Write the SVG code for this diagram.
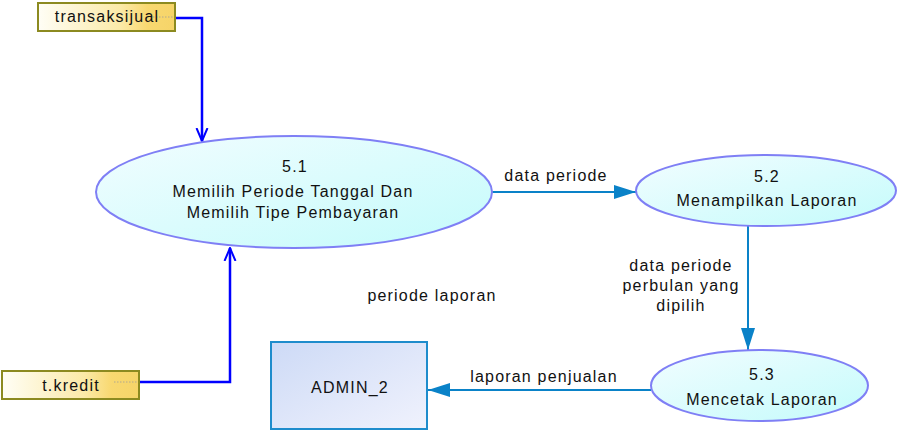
<svg xmlns="http://www.w3.org/2000/svg" width="899" height="431" viewBox="0 0 899 431">
<style>
text{font-family:"Liberation Sans",Arial,sans-serif;font-size:16px;letter-spacing:1.2px;fill:#111;text-anchor:middle}
.proc{fill:url(#gProc);stroke:#7f7ff5;stroke-width:2}
.store{fill:url(#gStore);stroke:#8c8a20;stroke-width:2}
.ent{fill:url(#gEnt);stroke:#1e8ccc;stroke-width:2}
.fb{fill:none;stroke:#0000ff;stroke-width:2.5}
.fc{fill:none;stroke:#0a82c8;stroke-width:2}
.dot{stroke:#b0a890;stroke-width:1;stroke-dasharray:1.5 1.5}
</style>
<defs>
<linearGradient id="gProc" x1="0" y1="0" x2="1" y2="1"><stop offset="0" stop-color="#f2fdff"/><stop offset="1" stop-color="#c4fbfb"/></linearGradient>
<linearGradient id="gStore" x1="0" y1="0" x2="1" y2="0"><stop offset="0" stop-color="#fffef6"/><stop offset="0.6" stop-color="#fbeaa8"/><stop offset="0.8" stop-color="#f8d870"/><stop offset="1" stop-color="#f6d468"/></linearGradient>
<linearGradient id="gEnt" x1="0" y1="0" x2="1" y2="1"><stop offset="0" stop-color="#cddaf6"/><stop offset="1" stop-color="#f0f2fd"/></linearGradient>
<marker id="open" viewBox="0 0 14 14" refX="13" refY="7" markerWidth="14" markerHeight="14" markerUnits="userSpaceOnUse" orient="auto"><path d="M0,1.5 L13,7 L0,12.5" fill="none" stroke="#0000ff" stroke-width="2"/></marker>
<marker id="fill" viewBox="0 0 22 14" refX="22" refY="7" markerWidth="22" markerHeight="14" markerUnits="userSpaceOnUse" orient="auto"><path d="M0,0 L22,7 L0,14 Z" fill="#0a82c8"/></marker>
</defs>
<g id="connectors">
<path class="fb" d="M175,18 H202 V141" marker-end="url(#open)"/>
<path class="fb" d="M139,382 H230 V248" marker-end="url(#open)"/>
<path class="fc" d="M492,192 H636" marker-end="url(#fill)"/>
<path class="fc" d="M748,226 V350" marker-end="url(#fill)"/>
<path class="fc" d="M651,390 H428" marker-end="url(#fill)"/>
<text x="556" y="181">data periode</text>
<text x="681" y="271">data periode</text>
<text x="681" y="291">perbulan yang</text>
<text x="681" y="311">dipilih</text>
<text x="432" y="301">periode laporan</text>
<text x="544" y="382">laporan penjualan</text>
</g>
<g id="transaksijual">
<rect class="store" x="38" y="3" width="137" height="28"/>
<line class="dot" x1="150" y1="17" x2="174" y2="17"/>
<text x="107" y="22">transaksijual</text>
</g>
<g id="tkredit">
<rect class="store" x="2" y="371" width="137" height="28"/>
<line class="dot" x1="114" y1="382" x2="138" y2="382"/>
<text x="71" y="391">t.kredit</text>
</g>
<g id="p51">
<ellipse class="proc" cx="294" cy="192" rx="198" ry="56"/>
<text x="295" y="172">5.1</text>
<text x="293" y="197">Memilih Periode Tanggal Dan</text>
<text x="293" y="218">Memilih Tipe Pembayaran</text>
</g>
<g id="p52">
<ellipse class="proc" cx="766" cy="190.5" rx="130" ry="35.5"/>
<text x="767" y="182">5.2</text>
<text x="767" y="206">Menampilkan Laporan</text>
</g>
<g id="p53">
<ellipse class="proc" cx="759.5" cy="385.5" rx="108.5" ry="35.5"/>
<text x="762" y="380">5.3</text>
<text x="762" y="405">Mencetak Laporan</text>
</g>
<g id="admin2">
<rect class="ent" x="271" y="342" width="156" height="87"/>
<text x="350" y="393">ADMIN_2</text>
</g>
</svg>
